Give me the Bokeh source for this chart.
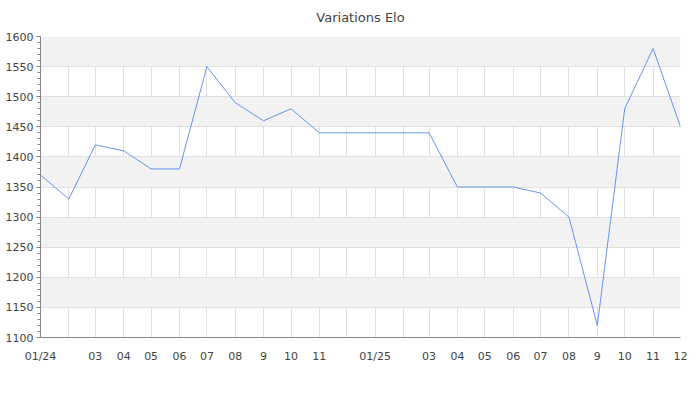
import pandas as pd
from bokeh.plotting import figure
from bokeh.models import FixedTicker, SingleIntervalTicker, Range1d
from bokeh.embed import file_html
from bokeh.resources import INLINE

months = ["2024-01", "2024-02", "2024-03", "2024-04", "2024-05", "2024-06",
          "2024-07", "2024-08", "2024-09", "2024-10", "2024-11", "2024-12",
          "2025-01", "2025-02", "2025-03", "2025-04", "2025-05", "2025-06",
          "2025-07", "2025-08", "2025-09", "2025-10", "2025-11", "2025-12"]
elo = [1370, 1330, 1420, 1410, 1380, 1380, 1550, 1490, 1460, 1480, 1440, 1440,
       1440, 1440, 1440, 1350, 1350, 1350, 1340, 1300, 1120, 1480, 1580, 1450]
tick_labels = ["01/24", "", "03", "04", "05", "06", "07", "08", "9", "10", "11", "",
               "01/25", "", "03", "04", "05", "06", "07", "08", "9", "10", "11", "12"]

x_ms = [int(pd.Timestamp(m + "-01").value // 10**6) for m in months]

p = figure(frame_width=640, frame_height=301, x_axis_type="datetime",
           output_backend="svg", toolbar_location=None,
           min_border_left=40, min_border_right=12, min_border_top=36,
           min_border_bottom=47,
           x_range=Range1d(x_ms[0], x_ms[-1]), y_range=Range1d(1100, 1600))
p.outline_line_color = None
p.background_fill_color = "white"

p.title.text = "Variations Elo"
p.title.align = "center"
p.title.vertical_align = "top"
p.title.text_font = "DejaVu Sans"
p.title.text_font_size = "13px"
p.title.text_font_style = "normal"
p.title.text_color = "#444444"
p.title.standoff = 19

p.line(x_ms, elo, line_color="#6495ED", line_width=1)

ticker = FixedTicker(ticks=x_ms)
p.xaxis.ticker = ticker
p.xgrid.ticker = ticker
p.xaxis.major_label_overrides = {t: lab for t, lab in zip(x_ms, tick_labels)}
p.xaxis.major_tick_line_color = None
p.xaxis.minor_tick_line_color = None
p.xaxis.axis_line_color = "#888888"
p.xaxis.major_label_standoff = 6

p.yaxis.ticker = SingleIntervalTicker(interval=50, num_minor_ticks=5)
p.yaxis.axis_line_color = "#888888"
p.yaxis.major_tick_line_color = "#888888"
p.yaxis.minor_tick_line_color = "#888888"
p.yaxis.major_tick_out = 4
p.yaxis.major_tick_in = 0
p.yaxis.minor_tick_out = 3
p.yaxis.minor_tick_in = 0
p.yaxis.major_label_standoff = 3

for ax in (p.xaxis, p.yaxis):
    ax.major_label_text_font = "DejaVu Sans"
    ax.major_label_text_font_size = "11px"
    ax.major_label_text_color = "#444444"

p.xgrid.grid_line_color = "#e0e0e0"
p.ygrid.grid_line_color = "#e0e0e0"
p.ygrid.band_fill_color = "#f2f2f2"
p.ygrid.band_fill_alpha = 1.0

open("out.html", "w").write(file_html(p, INLINE))
